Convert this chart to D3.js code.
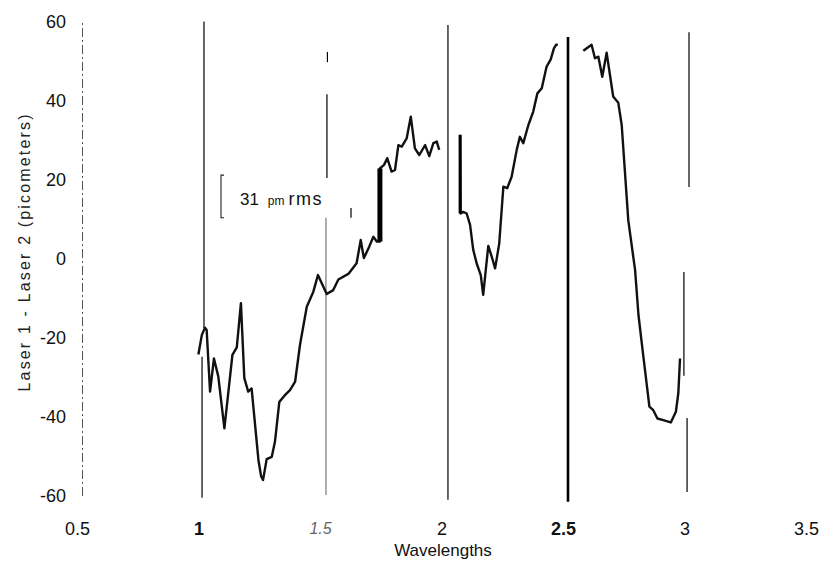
<!DOCTYPE html>
<html>
<head>
<meta charset="utf-8">
<script src="https://cdn.jsdelivr.net/npm/d3@7"></script>
<style>
  body { margin: 0; background: #fff; }
  svg { display: block; font-family: "Liberation Sans", Arial, sans-serif; }
</style>
</head>
<body>
<div class="chart"></div>
<script>
const xTicks = [0.5, 1, 1.5, 2, 2.5, 3, 3.5]
const yTicks = [60, 40, 20, 0, -20, -40, -60]

// scan trace, [wavelength, pm]
const traceA = [
  [0.979, -24.3], [0.993, -19.4], [1.006, -17.5], [1.013, -18.1], [1.027, -33.7],
  [1.043, -25.3], [1.061, -29.9], [1.086, -43.0], [1.119, -24.4], [1.137, -22.5],
  [1.154, -11.3], [1.168, -30.3], [1.184, -33.7], [1.198, -32.9], [1.226, -51.0],
  [1.237, -55.1], [1.245, -56.1], [1.260, -50.8], [1.281, -50.2], [1.294, -46.4],
  [1.312, -36.3], [1.335, -34.6], [1.356, -33.3], [1.377, -31.2], [1.397, -21.9],
  [1.425, -12.2], [1.452, -8.4], [1.471, -4.2], [1.507, -9.0], [1.534, -8.0],
  [1.555, -5.3], [1.596, -3.9], [1.630, -1.2], [1.647, 4.7], [1.660, 0.1],
  [1.682, 3.0], [1.699, 5.5], [1.713, 4.3], [1.726, 4.3], [1.726, 22.8],
  [1.743, 23.7], [1.756, 25.4], [1.774, 22.0], [1.788, 22.4], [1.802, 28.7],
  [1.816, 28.3], [1.836, 30.4], [1.853, 35.9], [1.870, 27.9], [1.888, 26.2],
  [1.912, 28.7], [1.929, 25.9], [1.946, 29.2], [1.960, 29.6], [1.970, 27.5]
]
const traceB = [
  [2.056, 31.3], [2.058, 11.4], [2.069, 11.8], [2.083, 11.4], [2.097, 8.5],
  [2.110, 2.2], [2.124, -1.2], [2.141, -4.2], [2.151, -9.2], [2.172, 3.2],
  [2.186, 0.5], [2.200, -2.5], [2.217, 3.8], [2.234, 18.2], [2.250, 17.8],
  [2.268, 20.7], [2.289, 27.5], [2.302, 30.8], [2.316, 29.2], [2.337, 33.8],
  [2.357, 37.2], [2.374, 41.8], [2.392, 43.1], [2.412, 48.6], [2.429, 50.4],
  [2.442, 53.2], [2.451, 54.1], [2.458, 54.1]
]
const traceC = [
  [2.563, 52.6], [2.597, 54.1], [2.611, 50.7], [2.625, 51.1], [2.641, 46.0],
  [2.659, 52.1], [2.686, 41.0], [2.707, 39.4], [2.721, 33.8], [2.748, 9.7],
  [2.776, -2.9], [2.790, -14.3], [2.807, -23.2], [2.835, -37.5], [2.851, -38.4],
  [2.868, -40.5], [2.892, -40.9], [2.923, -41.5], [2.944, -38.8], [2.954, -34.1],
  [2.961, -25.3]
]
// jumps in the trace, [wavelength, from, to]
const jumps = [[1.726, 4.3, 22.8], [2.056, 11.4, 31.3]]

// wavelength marker rules, [wavelength, top, bottom]
const rules = [
  [1.002, 60, -17.6], [0.994, -24.9, -60.6],
  [1.51, 52.3, 49.7], [1.508, 41.6, 20.4], [1.504, 10.3, -59.9], [1.607, 12.8, 10.3],
  [2.006, 59.1, -61.1],
  [2.5, 56.1, -61.6],
  [2.998, 57.3, 18.1], [2.977, -3.4, -29.7], [2.99, -40.4, -59.1]
]

const rmsNote = { x: 1.15, y: 13.5, value: '31', unit: 'pm', label: 'rms' }
const bracket = { x: 1.072, top: 21.1, bottom: 10.3 }

const width = 819
const height = 563

const x = d3.scaleLinear().domain([0.5, 3.5]).range([82, 811])
const y = d3.scaleLinear().domain([-60, 60]).range([495.5, 21.5])

const svg = d3.select('.chart')
  .append('svg')
  .attr('width', width)
  .attr('height', height)

// y axis: dashed spine and labels (plain hyphen minus)
const yAxis = svg.append('g')
  .attr('transform', `translate(${x(0.5)},0)`)
  .call(d3.axisLeft(y).tickValues(yTicks).tickSize(0).tickSizeOuter(0).tickPadding(16)
    .tickFormat(d => String(d)))
yAxis.select('.domain')
  .attr('stroke', '#555')
  .attr('stroke-width', 1)
  .attr('stroke-dasharray', '9,3,2,3')
yAxis.selectAll('text')
  .attr('font-size', 18)
  .attr('font-family', '"Liberation Sans", Arial, sans-serif')
  .attr('fill', '#111')

// x axis: labels only
const xAxis = svg.append('g')
  .attr('transform', `translate(-5,${y(-60)})`)
  .call(d3.axisBottom(x).tickValues(xTicks).tickSize(0).tickPadding(27).tickFormat(d => String(d)))
xAxis.select('.domain').remove()
xAxis.selectAll('text')
  .attr('font-size', d => d === 1.5 ? 16 : 18)
  .attr('font-family', '"Liberation Sans", Arial, sans-serif')
  .attr('font-style', d => d === 1.5 ? 'italic' : 'normal')
  .attr('font-weight', d => d === 1 || d === 2.5 ? 'bold' : 'normal')
  .attr('fill', d => d === 1.5 ? '#666' : '#111')

svg.append('text')
  .attr('x', 443)
  .attr('y', 556)
  .attr('text-anchor', 'middle')
  .attr('font-size', 17)
  .attr('fill', '#111')
  .text('Wavelengths')

svg.append('text')
  .attr('transform', 'translate(30,253) rotate(-90)')
  .attr('text-anchor', 'middle')
  .attr('font-size', 16)
  .attr('fill', '#222')
  .attr('textLength', 277)
  .attr('lengthAdjust', 'spacing')
  .text('Laser 1 - Laser 2 (picometers)')

// marker rules
svg.append('g')
  .selectAll('line')
  .data(rules)
  .enter()
  .append('line')
  .attr('x1', d => x(d[0]))
  .attr('x2', d => x(d[0]))
  .attr('y1', d => y(d[1]))
  .attr('y2', d => y(d[2]))
  .attr('stroke', d => d[0] === 1.504 ? '#777' : '#000')
  .attr('stroke-width', d => d[0] === 2.5 ? 2.6 : 1.2)

// trace
const line = d3.line().x(d => x(d[0])).y(d => y(d[1]))
svg.append('g')
  .selectAll('path')
  .data([traceA, traceB, traceC])
  .enter()
  .append('path')
  .attr('d', line)
  .attr('fill', 'none')
  .attr('stroke', '#111')
  .attr('stroke-width', 2.4)
  .attr('stroke-linejoin', 'round')

svg.append('g')
  .selectAll('line')
  .data(jumps)
  .enter()
  .append('line')
  .attr('x1', d => x(d[0]))
  .attr('x2', d => x(d[0]))
  .attr('y1', d => y(d[1]))
  .attr('y2', d => y(d[2]))
  .attr('stroke', '#000')
  .attr('stroke-width', (d, i) => i === 0 ? 5 : 3)

// rms note
svg.append('path')
  .attr('d', `M${x(bracket.x) + 3},${y(bracket.top)}H${x(bracket.x)}V${y(bracket.bottom)}H${x(bracket.x) + 3}`)
  .attr('fill', 'none')
  .attr('stroke', '#222')
  .attr('stroke-width', 1.1)

const note = svg.append('text')
  .attr('x', x(rmsNote.x))
  .attr('y', y(rmsNote.y))
  .attr('fill', '#111')
note.append('tspan').attr('font-size', 17).text(rmsNote.value)
note.append('tspan').attr('font-size', 12).attr('dx', 9).text(rmsNote.unit)
note.append('tspan').attr('font-size', 18).attr('dx', 4).attr('letter-spacing', 1.5).text(rmsNote.label)
</script>
</body>
</html>
